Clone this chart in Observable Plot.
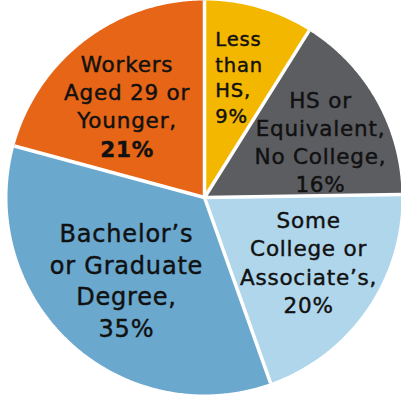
<!DOCTYPE html>
<html>
<head>
<meta charset="utf-8">
<script src="https://cdn.jsdelivr.net/npm/d3@7"></script>
<script src="https://cdn.jsdelivr.net/npm/@observablehq/plot@0.6"></script>
<style>
  html, body { margin: 0; padding: 0; background: #fff; }
  svg { display: block; }
  svg text { letter-spacing: 0.8px; }
</style>
</head>
<body>
<div id="chart"></div>
<script>
// ---- data ----
const categories = [
  "Less\nthan\nHS,",
  "HS or\nEquivalent,\nNo College,",
  "Some\nCollege or\nAssociate’s,",
  "Bachelor’s\nor Graduate\nDegree,",
  "Workers\nAged 29 or\nYounger,"
];
const values = [9, 16, 20, 35, 21];
const colors = ["#F4B700", "#5C5D61", "#B0D6EC", "#6AA8CE", "#E66516"];
// label placement: font size, radial fraction, angular offset from slice mid-angle (deg)
const labelSizes = [19.5, 21.5, 21.5, 24, 21.5];
const labelRadius = [0.64, 0.655, 0.62, 0.575, 0.611];
const labelTurn = [0, 3.4, -3.2, 0.8, -2.6];

// ---- pie geometry via d3.pie ----
const rows = categories.map((c, i) => ({ category: c, value: values[i], color: colors[i], size: labelSizes[i], rf: labelRadius[i], turn: labelTurn[i], idx: i }));
const arcs = d3.pie().sort(null).value(d => d.value)(rows);

const slicePts = [];
for (const a of arcs) {
  const steps = Math.max(2, Math.ceil((a.endAngle - a.startAngle) / (Math.PI / 360)));
  slicePts.push({ k: a.data.idx, color: a.data.color, x: 0, y: 0 });
  for (let s = 0; s <= steps; s++) {
    const t = a.startAngle + (a.endAngle - a.startAngle) * s / steps;
    slicePts.push({ k: a.data.idx, color: a.data.color, x: Math.sin(t), y: Math.cos(t) });
  }
  slicePts.push({ k: a.data.idx, color: a.data.color, x: 0, y: 0 });
}
const edges = arcs.map(a => ({ x2: Math.sin(a.startAngle), y2: Math.cos(a.startAngle) }));

const labels = arcs.map(a => {
  const m = (a.startAngle + a.endAngle) / 2 + a.data.turn * Math.PI / 180;
  const r = a.data.rf;
  return { x: r * Math.sin(m), y: r * Math.cos(m), idx: a.data.idx, size: a.data.size,
           text: a.data.category + "\n" + a.data.value + "%", name: a.data.category, pct: a.data.value + "%" };
});
const centered = labels.filter(d => d.idx >= 1 && d.idx <= 3);
const yellow = labels.filter(d => d.idx === 0);
const orange = labels.filter(d => d.idx === 4);

const font = "DejaVu Sans, sans-serif";
const ink = "#111";
const common = { x: "x", y: "y", fontSize: "size", lineAnchor: "middle", fill: ink, stroke: ink, strokeWidth: 0.45, fontFamily: font };

const chart = Plot.plot({
  width: 401,
  height: 403,
  marginLeft: 7,
  marginRight: 0,
  marginTop: 0,
  marginBottom: 9,
  x: { domain: [-1, 1], axis: null },
  y: { domain: [-1, 1], axis: null },
  style: { fontFamily: font, background: "#fff" },
  marks: [
    Plot.line(slicePts, { x: "x", y: "y", z: "k", fill: d => d.color, stroke: "none", curve: "linear" }),
    Plot.link(edges, { x1: 0, y1: 0, x2: "x2", y2: "y2", stroke: "#fff", strokeWidth: 3.5 }),
    Plot.text(centered, { ...common, text: "text", lineHeight: 1.31, textAnchor: "middle" }),
    Plot.text(yellow, { ...common, text: "text", lineHeight: 1.31, textAnchor: "start", dx: -24 }),
    Plot.text(orange, { ...common, text: d => d.name + "\n\u00a0", lineHeight: 1.31, textAnchor: "middle" }),
    Plot.text(orange, { ...common, text: d => "\u00a0\n\u00a0\n\u00a0\n" + d.pct, fontWeight: "bold", lineHeight: 1.31, textAnchor: "middle" })
  ]
});
document.getElementById("chart").appendChild(chart);
</script>
</body>
</html>
